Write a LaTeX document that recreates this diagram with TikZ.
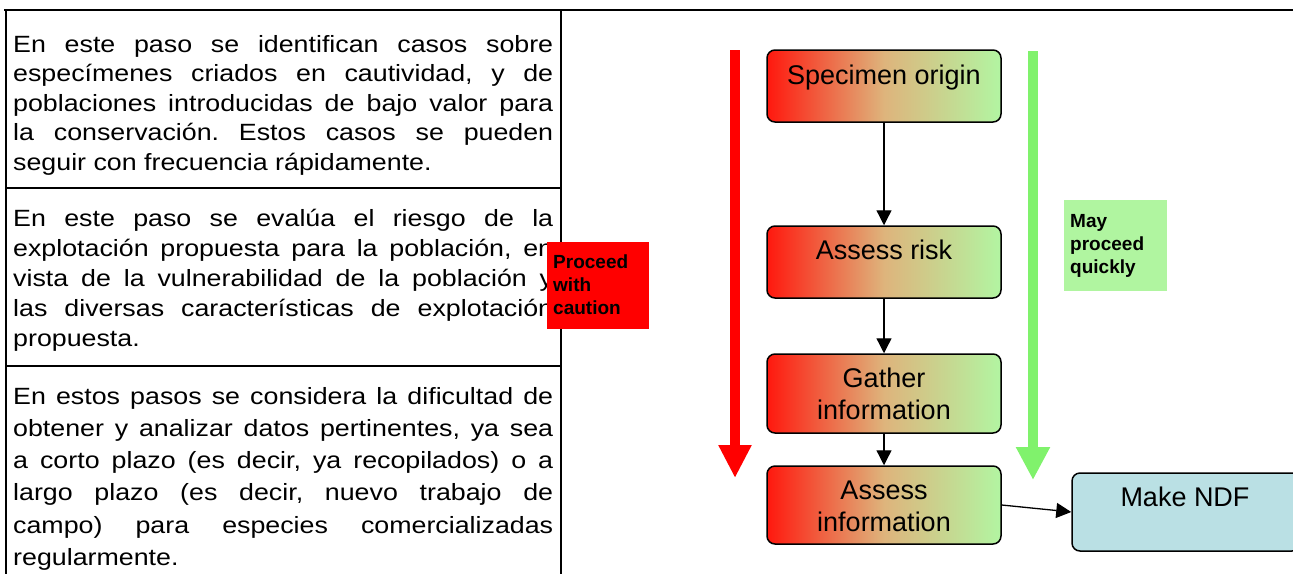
\documentclass[tikz,border=0pt]{standalone}
\usepackage{fontspec}
\setmainfont{Liberation Sans}
\newfontfamily\bodyfont[FakeStretch=1.14]{Liberation Sans}
\usetikzlibrary{arrows.meta}
\definecolor{gL}{RGB}{255,24,14}
\definecolor{gM}{RGB}{222,180,124}
\definecolor{gR}{RGB}{178,245,162}
\definecolor{lgreen}{RGB}{176,245,160}
\definecolor{agreen}{RGB}{128,242,108}
\definecolor{ndfblue}{RGB}{186,224,228}
\newcommand\jline[1]{\makebox[540pt][s]{#1}}
\frenchspacing
\begin{document}
\begin{tikzpicture}[x=1pt,y=-1pt,
  stepbox/.style={draw=black, line width=1.5pt, rounded corners=8pt, minimum width=234pt, inner sep=0pt, left color=gL, right color=gR, middle color=gM},
  steptext/.style={anchor=base, inner sep=0pt, font=\fontsize{27}{32}\selectfont},
  flow/.style={line width=1.3pt, -{Triangle[width=15pt,length=15pt]}},
  rule/.style={line width=2.5pt},
  celltext/.style={anchor=base west, inner sep=0pt},
  labeltext/.style={anchor=base west, inner sep=0pt, font=\bfseries\fontsize{19}{23}\selectfont},
  bigarrow/.style={line width=10pt}
  ]
\useasboundingbox (0,0) rectangle (1293,574);
% table
\draw[rule] (4,10) -- (1293,10);
\draw[rule] (6,10) -- (6,574);
\draw[rule] (561,10) -- (561,574);
\draw[rule] (6,188) -- (561,188);
\draw[rule] (6,366) -- (561,366);
% cell texts
\node[celltext] (c1) at (13,52) {\parbox[t]{540pt}{\bodyfont\fontsize{23.5}{29.5}\selectfont
\jline{En este paso se identifican casos sobre}\\
\jline{especímenes criados en cautividad, y de}\\
\jline{poblaciones introducidas de bajo valor para}\\
\jline{la conservación. Estos casos se pueden}\\
seguir con frecuencia rápidamente.}};
\node[celltext] (c2) at (13,226) {\parbox[t]{540pt}{\bodyfont\fontsize{23.5}{30.2}\selectfont
\jline{En este paso se evalúa el riesgo de la}\\
\jline{explotación propuesta para la población, en}\\
\jline{vista de la vulnerabilidad de la población y}\\
\jline{las diversas características de explotación}\\
propuesta.}};
\node[celltext] (c3) at (13,404) {\parbox[t]{540pt}{\bodyfont\fontsize{23.5}{32.3}\selectfont
\jline{En estos pasos se considera la dificultad de}\\
\jline{obtener y analizar datos pertinentes, ya sea}\\
\jline{a corto plazo (es decir, ya recopilados) o a}\\
\jline{largo plazo (es decir, nuevo trabajo de}\\
\jline{campo) para especies comercializadas}\\
regularmente.}};
% labels
\node[fill=red, minimum width=102pt, minimum height=87pt, inner sep=0pt] (pcbox) at (598,285.5) {};
\node[labeltext] (pc) at (553,268) {\parbox[t]{95pt}{Proceed\\with\\caution}};
\node[fill=lgreen, minimum width=103pt, minimum height=91pt, inner sep=0pt] (mpbox) at (1115.5,245.5) {};
\node[labeltext] (mp) at (1070,227) {\parbox[t]{95pt}{May\\proceed\\quickly}};
% big arrows
\coordinate (rtop) at (735,50);
\coordinate (rtip) at (735,478);
\coordinate (gtop) at (1033,51);
\coordinate (gtip) at (1033,480);
\draw[bigarrow, red, -{Triangle[width=31pt,length=33pt]}] (rtop) -- (rtip);
\draw[bigarrow, agreen, -{Triangle[width=32pt,length=33pt]}] (gtop) -- (gtip);
% steps
\node[stepbox, minimum height=72pt] (b1) at (884,86) {};
\node[stepbox, minimum height=72pt] (b2) at (884,262) {};
\node[stepbox, minimum height=79pt] (b3) at (884,393.5) {};
\node[stepbox, minimum height=78pt] (b4) at (884,505) {};
\node[draw=black, line width=1.5pt, rounded corners=8pt, fill=ndfblue, minimum width=228pt, minimum height=78pt, inner sep=0pt] (ndf) at (1186,512) {};
\node[steptext] (t1) at (884,84) {Specimen origin};
\node[steptext] (t2) at (884,259) {Assess risk};
\node[steptext] (t3) at (884,387) {\parbox[t]{220pt}{\centering Gather\\information}};
\node[steptext] (t4) at (884,499) {\parbox[t]{220pt}{\centering Assess\\information}};
\node[steptext] (t5) at (1185,506) {Make NDF};
% connectors
\draw[flow] (b1) -- (b2);
\draw[flow] (b2) -- (b3);
\draw[flow] (b3) -- (b4);
\draw[flow] (b4.east) -- (ndf.west);
\end{tikzpicture}
\end{document}
